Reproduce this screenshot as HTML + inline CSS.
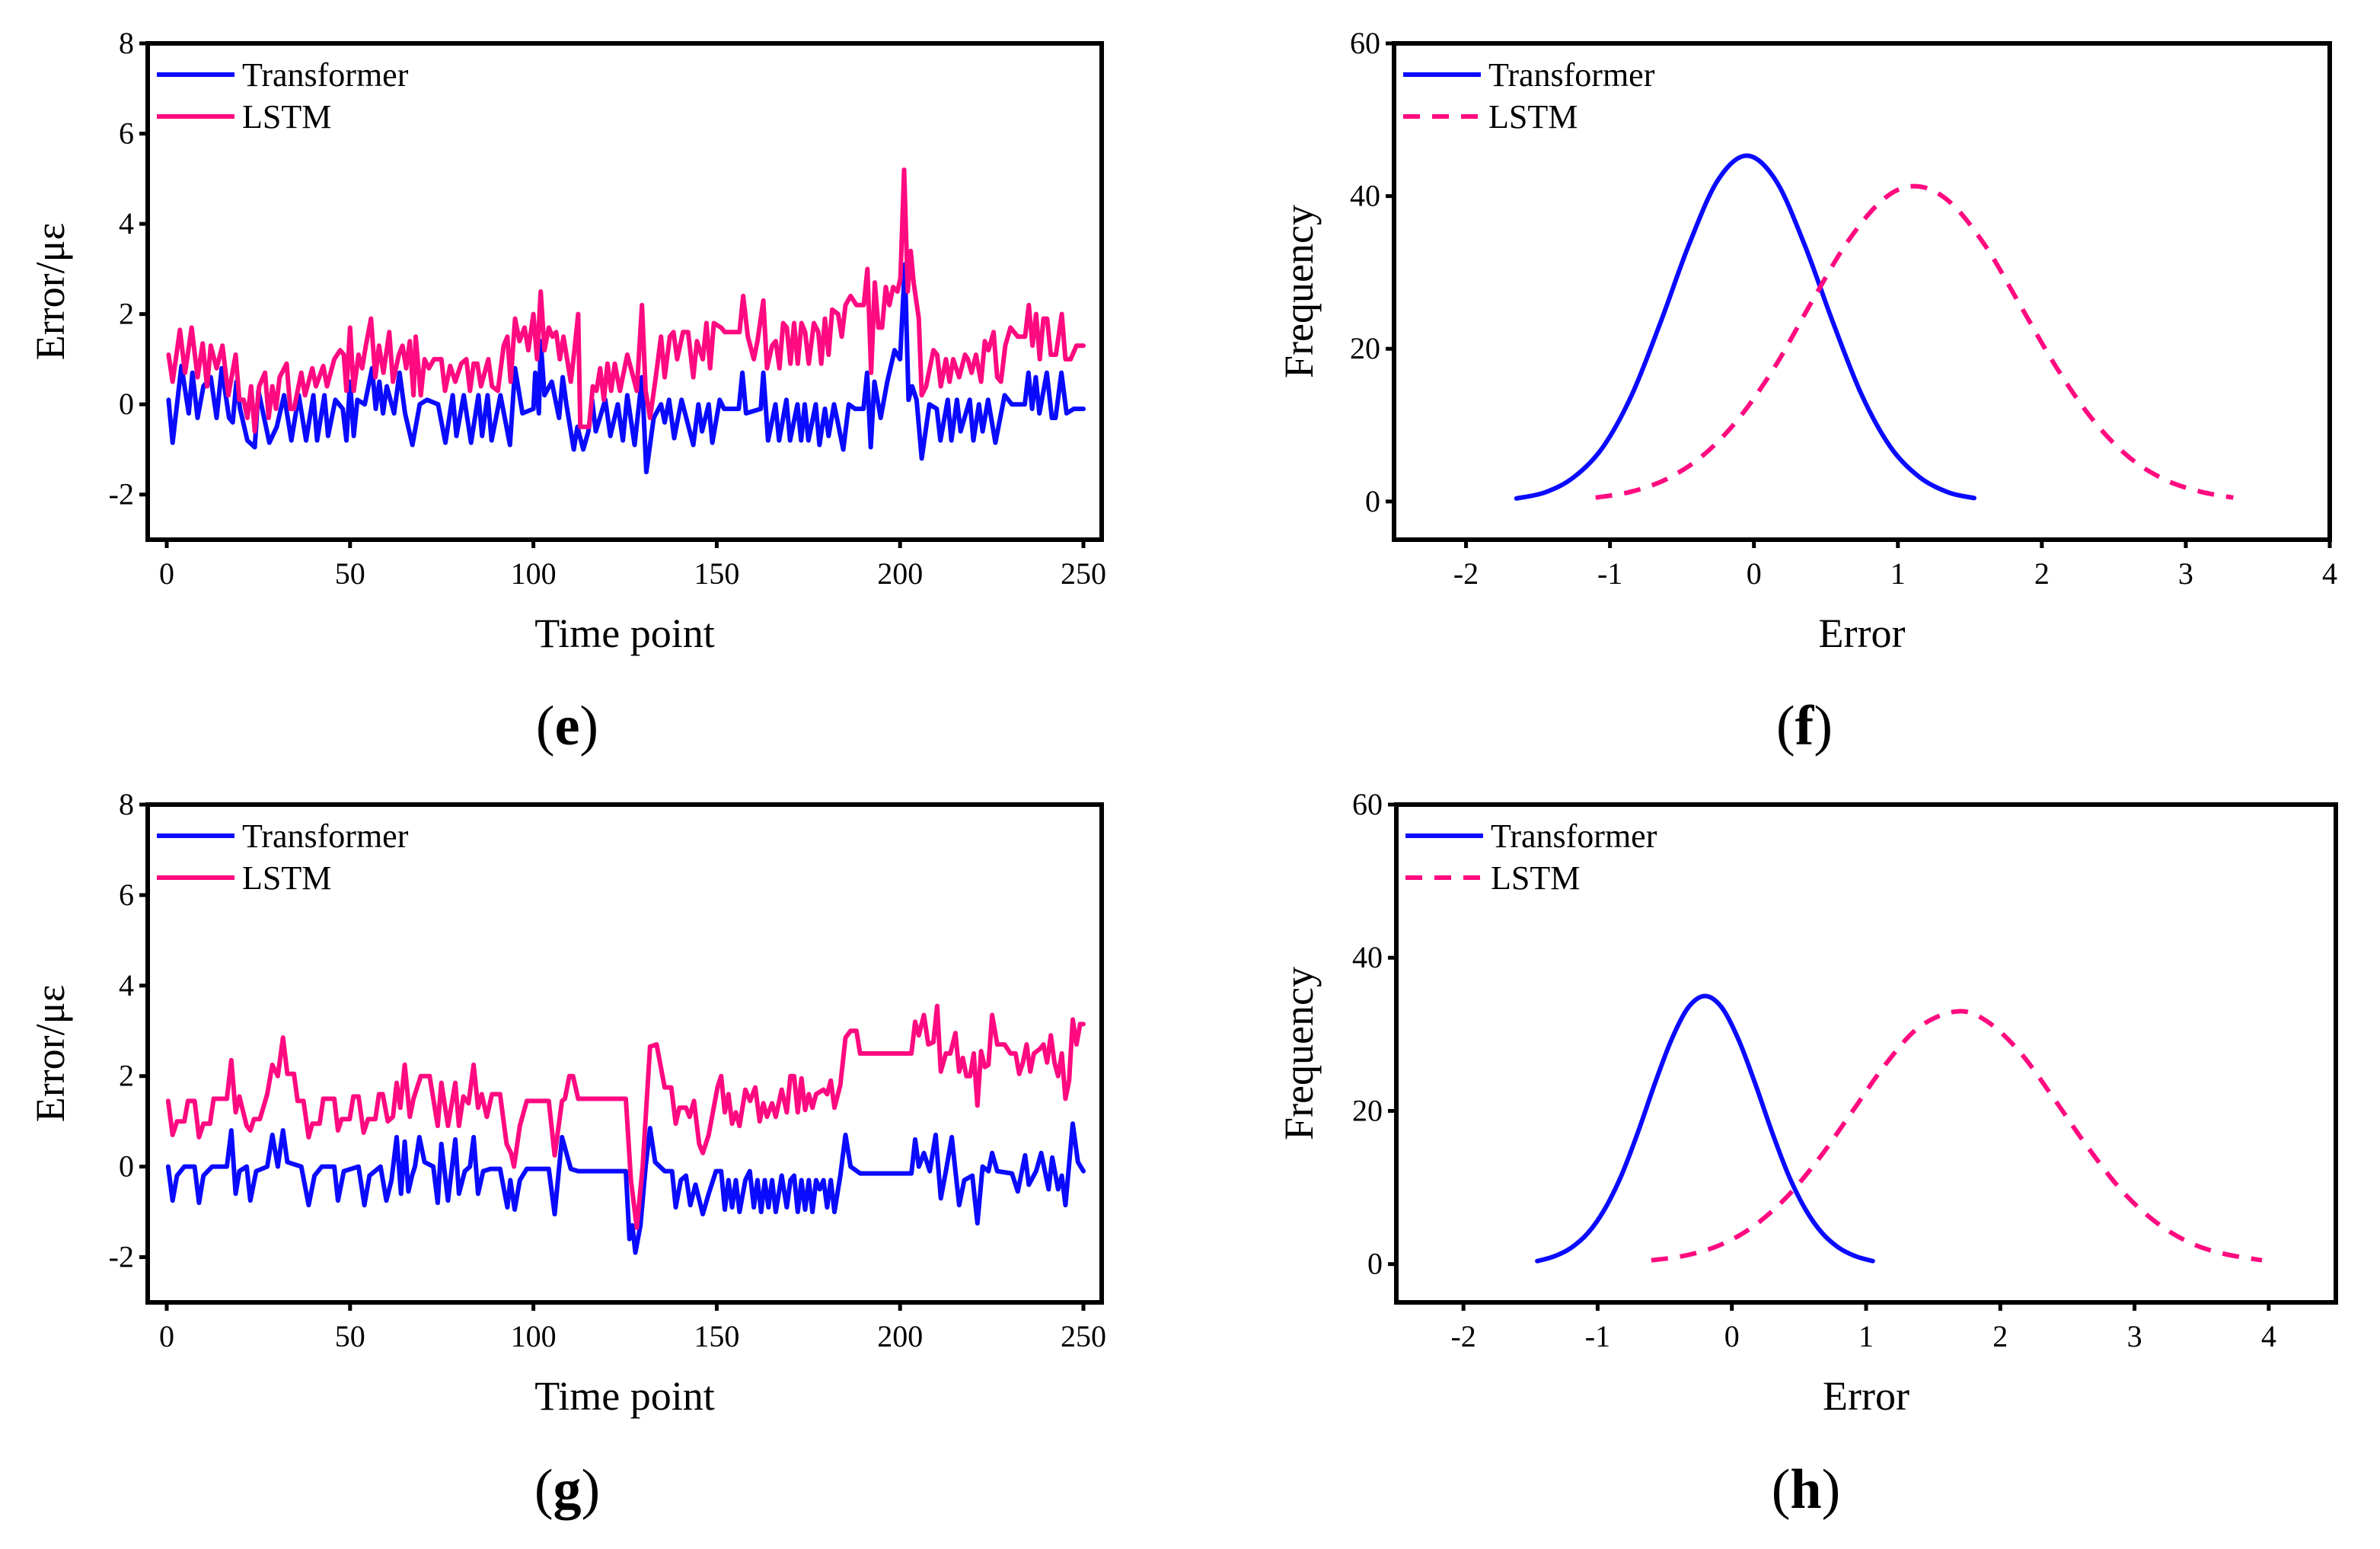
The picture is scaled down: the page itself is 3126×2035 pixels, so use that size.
<!DOCTYPE html>
<html><head><meta charset="utf-8"><style>
html,body{margin:0;padding:0;background:#fff;}
svg{display:block;}
text{font-family:"Liberation Serif",serif;fill:#000;}
</style></head>
<body>
<svg id="fig" width="3126" height="2035" viewBox="0 0 3126 2035" xmlns="http://www.w3.org/2000/svg"></svg>
<script>
// ---- panel (e) data ----
const eTimeT=[0.5,1.6,4,6,7,8.4,10,12,13.6,15,17,18,19,20,22,24,25,28,30,32,34,36,38,40,41,43,44,46,48,49,50,51,52,54,56,57,58,59,60,62,63.5,65,67,69,71,74,76,78,79,81,83,85,86,87.5,88.6,91,93.6,95,97,100,100.5,101.5,102,103,105,107,108,109,111,112,113.6,115,116,117,119.6,121,123,124.4,125.6,127.6,129.6,130.8,132.8,134.8,135.8,137,138.4,140.4,143.6,145,146,147.8,148.8,150.8,152,156,157,158,162,162.7,164,166,167,169,170,172,173,174,175,177,178,179.5,180.5,182,184.5,186,187.7,190,191,192,193,194.7,196.5,198.5,200,201.3,202.3,203.3,204.5,205.9,208,210,211,213,214,215.5,216.5,219,220,221.5,222.5,224,226,228.5,230.5,234,235,236,237,238,240,241.4,242.4,244,245.4,247.4,250];
const eTransformer=[0.1,-0.85,0.85,-0.2,0.7,-0.3,0.4,0.6,-0.3,0.8,-0.3,-0.4,0.5,-0.1,-0.8,-0.95,0.3,-0.85,-0.5,0.2,-0.8,0.2,-0.8,0.2,-0.8,0.2,-0.7,0.1,-0.1,-0.8,0.5,-0.7,0.1,0.0,0.8,-0.1,0.5,-0.2,0.4,-0.2,0.7,-0.2,-0.9,0.0,0.1,0.0,-0.85,0.2,-0.7,0.2,-0.85,0.2,-0.7,0.2,-0.8,0.2,-0.9,0.8,-0.2,-0.1,0.7,-0.2,1.4,0.2,0.5,-0.3,0.6,0.0,-1.0,-0.5,-1.0,-0.6,0.1,-0.6,0.1,-0.7,0.0,-0.8,0.2,-0.9,0.6,-1.5,-0.3,0.0,-0.4,0.1,-0.75,0.1,-0.9,0.0,-0.6,0.0,-0.85,0.1,-0.1,-0.1,0.7,-0.2,-0.1,0.7,-0.8,0.0,-0.8,0.1,-0.8,0.0,-0.8,0.0,-0.8,0.0,-0.9,-0.1,-0.7,0.0,-1.0,0.0,-0.1,-0.1,0.7,-0.95,0.5,-0.3,0.5,1.2,1.0,3.1,0.1,0.4,0.1,-1.2,0.0,-0.1,-0.8,0.1,-0.8,0.1,-0.6,0.1,-0.8,0.0,-0.6,0.1,-0.85,0.2,0.0,0.0,0.7,-0.1,0.6,-0.2,0.7,-0.3,-0.3,0.7,-0.2,-0.1,-0.1];
const eTimeL=[0.5,1.6,3.6,5,6.8,8.4,9.8,11,12,13.6,15.2,16.8,18.8,19.8,21,22,23,24,25.2,26.8,27.8,28.8,29.8,30.8,32.7,33.7,34.7,36.7,37.7,39.7,40.7,42.7,43.7,45.7,47.3,48.3,49,50,51,52.3,53.3,54.3,55.7,56.9,57.9,59.1,60.7,61.7,63.3,64.3,65.3,66.3,67.3,67.9,69.3,70.3,71.5,72.9,74.9,75.9,77.3,78.7,80.3,81.7,82.7,83.7,84.7,85.7,87.7,88.7,90.3,91.9,92.9,93.8,95,96.2,97.6,98.6,100,101,102,103,104.2,105.2,106.2,107.2,108.2,109.2,110.2,111.2,112.2,112.8,115.2,116.2,117.2,118.2,119.2,120.2,121.2,122.2,123.6,125.6,126.6,128.2,129.6,130.6,131.8,133.2,134.8,135.8,137.2,138.2,139.2,140.8,142.2,143.6,144.6,146.2,147.2,148.2,149.2,151.2,152.2,156.2,157.2,158.5,160.1,161.1,162.7,163.7,165.1,166.1,167.1,168.1,169.1,170.1,171.1,172.1,173.1,174.1,175.1,176.5,177.7,178.5,179.5,180.5,181.5,183.1,184.1,185.1,186.5,188.1,190.1,191.1,192.1,193.1,194.1,195.1,196.1,197.1,198.1,199.3,200.1,201.1,202.1,202.9,203.7,205.1,205.9,207.1,208.1,209.1,210.1,211.1,212.5,213.5,214.5,216.1,217.7,218.5,219.5,220.7,222.1,223.1,224.1,225.5,226.5,227.5,228.7,230.1,232.1,234.1,235.1,236.1,237.1,238.1,239.1,240.1,241.1,242.5,244.1,245.1,246.5,248.1,250];
const eLSTM=[1.1,0.5,1.65,0.7,1.7,0.6,1.35,0.4,1.3,0.8,1.3,0.2,1.1,0.1,0.1,-0.3,0.4,-0.6,0.4,0.7,-0.3,0.4,-0.1,0.6,0.9,-0.1,-0.1,0.7,0.2,0.8,0.4,0.85,0.4,1.0,1.2,1.1,0.3,1.7,0.3,1.1,0.8,1.3,1.9,0.6,1.3,0.7,1.6,0.5,1.1,1.3,0.8,1.4,0.2,1.5,0.2,1.0,0.8,1.0,1.0,0.3,0.85,0.5,0.9,1.0,0.3,0.9,0.9,0.4,1.0,0.4,0.3,1.3,1.5,0.5,1.9,1.4,1.7,1.2,2.0,1.0,2.5,1.2,1.7,1.5,1.6,1.0,1.5,1.0,0.5,1.2,2.0,-0.5,-0.5,0.4,0.3,0.8,0.1,0.9,0.3,0.9,0.3,1.1,0.8,0.3,2.2,0.3,-0.3,0.5,1.5,0.6,1.5,1.6,1.0,1.6,1.6,0.6,1.4,1.0,1.8,0.8,1.8,1.7,1.6,1.6,2.4,1.5,1.0,1.4,2.3,0.8,1.3,1.4,0.8,1.8,1.7,0.9,1.8,0.9,1.8,1.6,0.9,1.8,1.6,0.9,1.9,1.1,2.1,2.0,1.5,2.2,2.4,2.2,2.2,3.0,0.7,2.7,1.7,1.7,2.6,2.2,2.6,2.5,2.8,5.2,2.5,3.4,2.7,1.9,0.2,0.4,0.8,1.2,1.1,0.4,1.0,0.5,1.0,0.6,1.1,1.0,0.7,1.1,0.5,1.4,1.2,1.6,0.6,0.5,1.3,1.7,1.5,1.5,2.2,1.3,2.0,1.0,1.9,1.9,1.1,1.1,2.0,1.0,1.0,1.3,1.3];
// ---- panel (g) data ----
const gTimeT=[0.4,1.6,2.8,4.8,7.6,8.8,10,12.4,16.4,17.6,18.8,19.8,21.8,22.8,24.4,27.4,28.8,30.3,31.7,32.9,36.7,38.7,40.3,42.3,45.7,46.7,48.3,52.3,53.9,55.3,58.3,59.9,61.3,62.7,63.9,64.9,65.9,66.9,67.7,68.9,70.3,72.7,73.9,74.9,76.7,78.7,79.7,81.3,82.7,83.7,84.9,86.3,88.3,90.9,92.9,93.7,94.9,96.3,98.2,104.2,105.8,107.8,110.2,112.2,125.2,126.2,127,127.8,129.2,130.6,131.8,133.2,135.8,137.8,138.8,140.2,141.6,142.8,144.2,146.2,147.8,149.8,151.2,152.2,153.2,154.2,155.2,156.2,157.8,159,160.1,161.1,162.1,163.1,164.1,165.1,166.1,167.7,169.1,170.1,171.1,172.1,173.1,174.1,175.1,176.1,177.1,178.1,179.1,180.1,181.1,182.1,183.7,185.1,186.5,189.1,203.1,204.1,205.1,206.5,208.1,209.7,211.1,212.5,214.1,216.1,217.5,219.7,221.1,222.5,224.1,225.1,226.5,230.5,232.1,234.1,235.1,237.1,238.5,240.5,241.5,243.1,244.1,245.1,247.1,248.5,250];
const gTransformer=[0.0,-0.75,-0.2,0.0,0.0,-0.8,-0.2,0.0,0.0,0.8,-0.6,-0.1,0.0,-0.75,-0.1,0.0,0.7,0.0,0.8,0.1,0.0,-0.85,-0.2,0.0,0.0,-0.75,-0.1,0.0,-0.85,-0.2,0.0,-0.75,-0.3,0.65,-0.6,0.55,-0.55,-0.2,0.0,0.65,0.1,0.0,-0.8,0.5,-0.75,0.6,-0.6,-0.1,0.0,0.65,-0.6,-0.1,-0.05,-0.05,-0.9,-0.3,-0.95,-0.3,-0.05,-0.05,-1.05,0.65,-0.05,-0.1,-0.1,-1.6,-1.3,-1.9,-1.3,0.0,0.85,0.1,-0.1,-0.1,-0.9,-0.3,-0.2,-0.85,-0.4,-1.05,-0.6,-0.1,-0.1,-0.95,-0.3,-0.9,-0.3,-1.0,-0.3,-0.1,-0.9,-0.3,-1.0,-0.3,-0.9,-0.3,-1.0,-0.2,-0.9,-0.3,-0.2,-1.0,-0.3,-0.95,-0.3,-1.0,-0.3,-0.5,-0.3,-0.9,-0.3,-1.0,-0.2,0.7,0.0,-0.15,-0.15,0.6,0.0,0.3,-0.1,0.7,-0.7,-0.1,0.65,-0.85,-0.3,-0.2,-1.25,0.0,-0.1,0.3,-0.1,-0.15,-0.55,0.25,-0.4,-0.1,0.3,-0.5,0.2,-0.5,-0.2,-0.85,0.95,0.1,-0.1];
const gTimeL=[0.4,1.6,2.8,4.8,5.8,7.6,8.8,10,11.8,12.8,16.4,17.6,18.8,19.8,21.8,22.8,23.8,25.4,27.4,28.8,30.3,31.7,32.9,34.7,35.7,37.3,38.7,39.7,41.7,42.7,45.7,46.7,47.7,49.9,50.9,52.3,53.7,54.9,56.9,57.9,58.9,60.3,61.7,62.7,63.7,64.9,66.3,67.3,69.3,71.7,73.9,74.9,76.7,78.7,79.7,80.9,82.3,83.7,84.9,85.9,87.3,88.7,90.9,92.7,93.9,94.7,96.3,98.2,104.2,105.8,107.8,108.6,109.8,110.8,112.2,125.2,126.6,128.2,129.8,131.8,133.6,135.8,137.6,138.8,139.8,141.6,142.6,143.8,145.2,146.2,147.8,150.2,151.2,152.2,153.2,154.2,155.2,156.2,157.8,159.1,160.5,161.7,162.7,163.7,165.1,166.1,167.7,169.1,170.1,171.1,172.1,173.1,174.1,175.1,176.1,177.1,179.1,180.1,181.1,182.1,183.7,185.1,186.5,188.1,189.1,203.1,204.1,205.1,206.5,207.7,209.1,210.1,211.1,212.5,213.7,215.1,216.1,217.1,218.1,219.1,220.1,221.1,222.1,223.1,224.1,225.1,226.5,228.5,230.1,231.5,232.5,233.5,234.5,235.5,236.5,238.1,239.1,240.1,241.1,242.1,243.1,244.1,245.1,246.1,247.1,248.1,249.1,250];
const gLSTM=[1.45,0.7,1.0,1.0,1.45,1.45,0.65,0.95,0.95,1.5,1.5,2.35,1.2,1.55,0.9,0.8,1.05,1.05,1.6,2.25,2.0,2.85,2.05,2.05,1.45,1.45,0.65,0.95,0.95,1.5,1.5,0.8,1.05,1.05,1.55,1.55,0.75,1.05,1.05,1.6,1.6,1.0,1.1,1.85,1.3,2.25,1.1,1.5,2.0,2.0,0.9,1.85,0.9,1.85,0.9,1.55,1.4,2.25,1.3,1.6,1.1,1.6,1.6,0.5,0.3,0.0,0.9,1.45,1.45,0.25,1.45,1.5,2.0,2.0,1.5,1.5,-0.3,-1.35,0.0,2.65,2.7,1.75,1.75,0.95,1.3,1.3,1.1,1.45,0.5,0.3,0.7,1.75,2.0,1.2,1.6,0.95,1.2,0.9,1.7,1.45,1.75,1.0,1.4,1.1,1.4,1.1,1.7,1.2,2.0,2.0,1.2,1.95,1.25,1.6,1.3,1.6,1.7,1.6,1.9,1.3,1.8,2.85,3.0,3.0,2.5,2.5,3.2,2.9,3.35,2.7,2.75,3.55,2.1,2.5,2.5,2.95,2.1,2.4,2.0,2.0,2.5,1.35,2.55,2.2,2.25,3.35,2.7,2.7,2.5,2.5,2.05,2.3,2.7,2.1,2.5,2.6,2.7,2.3,2.9,2.3,2.0,2.5,1.5,1.9,3.25,2.7,3.15,3.15];
// ---- panel (f) data ----
const fTransX=[-1.65,-1.45,-1.25,-1.05,-0.85,-0.65,-0.45,-0.25,-0.05,0.15,0.35,0.55,0.75,0.95,1.15,1.35,1.53];
const fTransY=[0.4,1.2,3.2,7.1,13.9,23.4,33.7,42.1,45.3,42.1,33.7,23.4,13.9,7.1,3.2,1.2,0.45];
const fLstmX=[-1.1,-0.85,-0.6,-0.35,-0.1,0.15,0.4,0.65,0.9,1.12,1.35,1.6,1.85,2.1,2.35,2.6,2.85,3.1,3.33];
const fLstmY=[0.5,1.3,3.0,6.1,11.0,17.8,26.1,34.0,39.6,41.3,39.4,33.7,25.7,17.6,10.8,5.9,2.9,1.3,0.5];
// ---- panel (h) data ----
const hTransX=[-1.45,-1.325,-1.2,-1.075,-0.95,-0.825,-0.7,-0.575,-0.45,-0.325,-0.2,-0.075,0.05,0.175,0.3,0.425,0.55,0.675,0.8,0.925,1.05];
const hTransY=[0.4,1.0,2.1,4.0,7.1,11.5,17.2,23.5,29.3,33.5,35.0,33.5,29.3,23.5,17.2,11.5,7.1,4.0,2.1,1.0,0.4];
const hLstmX=[-0.6,-0.35,-0.1,0.15,0.4,0.65,0.9,1.15,1.4,1.68,1.9,2.15,2.4,2.65,2.9,3.15,3.4,3.65,3.95];
const hLstmY=[0.5,1.1,2.4,4.8,8.6,13.8,20.0,26.2,31.0,33.0,31.7,27.6,21.6,15.3,9.7,5.6,2.9,1.4,0.5];
// ---- tick labels ----
const timeTicks=[0,50,100,150,200,250];
const errTicks=[-2,0,2,4,6,8];
const errXTicks=[-2,-1,0,1,2,3,4];
const freqTicks=[0,20,40,60];

const NS="http://www.w3.org/2000/svg";
const svg=document.getElementById('fig');
const BLUE="#0a0aff", PINK="#ff0a80";
function mk(tag,attrs,parent){const e=document.createElementNS(NS,tag);for(const k in attrs)e.setAttribute(k,attrs[k]);(parent||svg).appendChild(e);return e;}

function pathFor(px,py,smooth){
  let d='M'+px[0].toFixed(1)+' '+py[0].toFixed(1);
  for(let i=1;i<px.length;i++){
    if(!smooth){d+='L'+px[i].toFixed(1)+' '+py[i].toFixed(1);continue;}
    const i0=Math.max(0,i-2),i1=i-1,i2=i,i3=Math.min(px.length-1,i+1);
    const c1x=px[i1]+(px[i2]-px[i0])/6,c1y=py[i1]+(py[i2]-py[i0])/6;
    const c2x=px[i2]-(px[i3]-px[i1])/6,c2y=py[i2]-(py[i3]-py[i1])/6;
    d+='C'+c1x.toFixed(1)+' '+c1y.toFixed(1)+' '+c2x.toFixed(1)+' '+c2y.toFixed(1)+' '+px[i2].toFixed(1)+' '+py[i2].toFixed(1);
  }
  return d;
}

function panel(c){
  const g=mk('g',{});
  
  
  const sx=v=>c.x0+(v-c.xmin)/(c.xmax-c.xmin)*(c.x1-c.x0);
  const sy=v=>c.y1-(v-c.ymin)/(c.ymax-c.ymin)*(c.y1-c.y0);
  c.series.forEach(s=>{
    const d=pathFor(s.x.map(sx),s.y.map(sy),c.smooth);
    const p=mk('path',{d:d,fill:'none',stroke:s.color,'stroke-width':6,'stroke-linejoin':'round','stroke-linecap':'round'},g);
    if(s.dash){p.setAttribute('stroke-dasharray','22 16');p.setAttribute('stroke-linecap','butt');}
    
    
  });
  const fr=mk('rect',{x:c.x0,y:c.y0,width:c.x1-c.x0,height:c.y1-c.y0,fill:'none',stroke:'#000','stroke-width':6},g);
  
  
  c.yticks.forEach(v=>{
    const y=sy(v);
    const t=mk('line',{x1:c.x0-11,x2:c.x0,y1:y,y2:y,stroke:'#000','stroke-width':5},g);
    
    
    const tx=mk('text',{x:c.x0-18,y:y+13,'text-anchor':'end','font-size':40},g);
    tx.textContent=String(v);
    
    
  });
  c.xticks.forEach(v=>{
    const x=sx(v);
    const t=mk('line',{x1:x,x2:x,y1:c.y1,y2:c.y1+11,stroke:'#000','stroke-width':5},g);
    
    
    const tx=mk('text',{x:x,y:c.y1+58,'text-anchor':'middle','font-size':40},g);
    tx.textContent=String(v);
    
    
  });
  const xt=mk('text',{x:(c.x0+c.x1)/2,y:c.y1+141,'text-anchor':'middle','font-size':54},g);
  xt.textContent=c.xtitle;
  
  
  const yt=mk('text',{x:0,y:0,'text-anchor':'middle','font-size':54,transform:'translate('+c.ytx+','+((c.y0+c.y1)/2)+') rotate(-90)'},g);
  yt.textContent=c.ytitle;
  
  
  c.series.forEach((s,i)=>{
    const ly=c.y0+41+i*55;
    const l=mk('line',{x1:c.x0+12,x2:c.x0+114,y1:ly,y2:ly,stroke:s.color,'stroke-width':6},g);
    if(s.dash)l.setAttribute('stroke-dasharray','22 16');
    
    
    const lt=mk('text',{x:c.x0+124,y:ly+15,'font-size':44},g);
    lt.textContent=s.label;
    
    
  });
  const pl=mk('text',{x:c.lx,y:c.ly,'text-anchor':'middle','font-size':74},g);
  const a=mk('tspan',{},pl);a.textContent='(';
  const b=mk('tspan',{'font-weight':'bold'},pl);b.textContent=c.letter;
  const d2=mk('tspan',{},pl);d2.textContent=')';
  
  
}

panel({id:'e',letter:'e',x0:194,x1:1447,y0:57,y1:709,xmin:-5.19,xmax:254.98,ymin:-3,ymax:8,xticks:timeTicks,yticks:errTicks,xtitle:'Time point',ytitle:'Error/με',ytx:84,lx:745,ly:978,
  series:[{name:'transformer-line-e',label:'Transformer',color:BLUE,x:eTimeT,y:eTransformer},{name:'lstm-line-e',label:'LSTM',color:PINK,x:eTimeL,y:eLSTM}]});
panel({id:'f',letter:'f',x0:1831,x1:3060,y0:57,y1:709,xmin:-2.5,xmax:4,ymin:-5,ymax:60,xticks:errXTicks,yticks:freqTicks,xtitle:'Error',ytitle:'Frequency',ytx:1724,lx:2370,ly:978,smooth:true,
  series:[{name:'transformer-curve-f',label:'Transformer',color:BLUE,x:fTransX,y:fTransY},{name:'lstm-curve-f',label:'LSTM',color:PINK,dash:true,x:fLstmX,y:fLstmY}]});
panel({id:'g',letter:'g',x0:194,x1:1447,y0:1057,y1:1711,xmin:-5.19,xmax:254.98,ymin:-3,ymax:8,xticks:timeTicks,yticks:errTicks,xtitle:'Time point',ytitle:'Error/με',ytx:84,lx:745,ly:1981,
  series:[{name:'transformer-line-g',label:'Transformer',color:BLUE,x:gTimeT,y:gTransformer},{name:'lstm-line-g',label:'LSTM',color:PINK,x:gTimeL,y:gLSTM}]});
panel({id:'h',letter:'h',x0:1834,x1:3068,y0:1057,y1:1711,xmin:-2.5,xmax:4.5,ymin:-5,ymax:60,xticks:errXTicks,yticks:freqTicks,xtitle:'Error',ytitle:'Frequency',ytx:1724,lx:2372,ly:1981,smooth:true,
  series:[{name:'transformer-curve-h',label:'Transformer',color:BLUE,x:hTransX,y:hTransY},{name:'lstm-curve-h',label:'LSTM',color:PINK,dash:true,x:hLstmX,y:hLstmY}]});
</script>
</body></html>
